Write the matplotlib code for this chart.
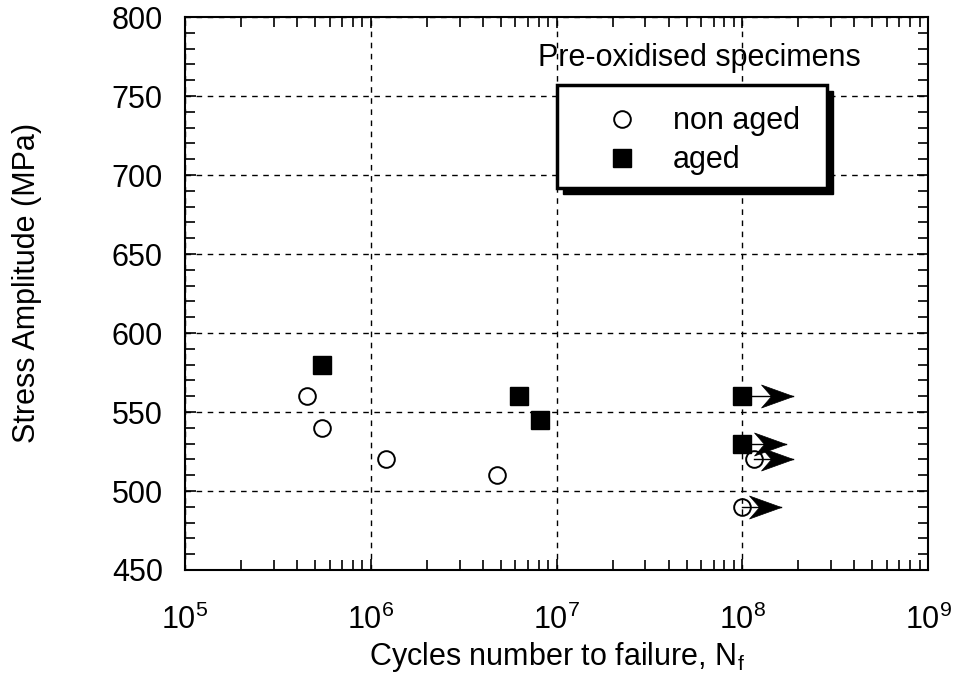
import numpy as np
import matplotlib.pyplot as plt
from matplotlib.patches import Rectangle
from matplotlib.path import Path
from matplotlib.ticker import LogLocator, MultipleLocator, NullFormatter

plt.rcParams['font.family'] = ['Liberation Sans', 'DejaVu Sans']
plt.rcParams['mathtext.fontset'] = 'custom'
plt.rcParams['mathtext.rm'] = 'Liberation Sans'
plt.rcParams['mathtext.it'] = 'Liberation Sans:italic'

# non aged (open circles)
non_aged_n = [4.55e5, 5.45e5, 1.21e6, 4.75e6, 1.0e8, 1.15e8]
non_aged_s = [560, 540, 520, 510, 490, 520]

# aged (filled squares)
aged_n = [5.45e5, 6.3e6, 8.1e6, 1.0e8, 1.0e8]
aged_s = [580, 560, 545, 560, 530]

# run-outs (no failure): start, arrow tip, stress
runout_n = [1.0e8, 1.0e8, 1.15e8, 1.0e8]
runout_tip = [1.88e8, 1.72e8, 1.88e8, 1.62e8]
runout_s = [560, 530, 520, 490]

# notched dart head, tip at the origin
head = Path([(0, 0), (-32, 11.5), (-22, 0), (-32, -11.5), (0, 0)],
            [Path.MOVETO, Path.LINETO, Path.LINETO, Path.LINETO, Path.CLOSEPOLY])

fig = plt.figure(figsize=(9.54, 6.81), dpi=100)
ax = fig.add_axes([0.194, 0.163, 0.779, 0.812])

ax.set_xscale('log')
ax.set_xlim(1e5, 1e9)
ax.set_ylim(450, 800)

for x0, x1, s in zip(runout_n, runout_tip, runout_s):
    ax.plot([x0, x1], [s, s], color='k', lw=1, zorder=2)
    ax.plot([x1], [s], marker=head, ms=46, mfc='k', mec='k', mew=0.5,
            ls='none', zorder=2)

ax.plot(non_aged_n, non_aged_s, 'o', ms=12, mfc='none', mec='k', mew=1.4,
        label='non aged', zorder=3)
ax.plot(aged_n, aged_s, 's', ms=13, mfc='k', mec='k', label='aged', zorder=3)

ax.yaxis.set_major_locator(MultipleLocator(50))
ax.yaxis.set_minor_locator(MultipleLocator(10))
ax.xaxis.set_major_locator(LogLocator(base=10, numticks=10))
ax.xaxis.set_minor_locator(LogLocator(base=10, subs=np.arange(2, 10), numticks=20))
ax.xaxis.set_minor_formatter(NullFormatter())

ax.tick_params(which='both', direction='in', top=True, right=True, width=1.2,
               labelsize=22)
ax.tick_params(which='major', length=8)
ax.tick_params(which='minor', length=7)
ax.tick_params(axis='x', which='major', pad=25)
ax.tick_params(axis='y', which='major', pad=16)
ax.grid(True, which='major', ls=(0, (4, 4)), color='k', lw=1)
for sp in ax.spines.values():
    sp.set_linewidth(1.5)

ax.set_xlabel('Cycles number to failure, N$_{\\rm f}$', fontsize=22)
ax.set_ylabel('Stress Amplitude (MPa)', fontsize=22)
ax.xaxis.set_label_coords(0.5, -0.127)
ax.yaxis.set_label_coords(-0.192, 0.52)

# legend box with black shadow
bx0, by0, bw, bh = 0.501, 0.691, 0.363, 0.186
ax.add_patch(Rectangle((bx0 + 0.008, by0 - 0.011), bw, bh, transform=ax.transAxes,
                       facecolor='k', edgecolor='k', zorder=5))
ax.add_patch(Rectangle((bx0, by0), bw, bh, transform=ax.transAxes,
                       facecolor='white', edgecolor='k', lw=2.5, zorder=6))
leg = ax.legend(loc='center', bbox_to_anchor=(bx0 + bw / 2 + 0.01, by0 + bh / 2 - 0.008),
                frameon=False, fontsize=22, handletextpad=0.9, labelspacing=0.3,
                handlelength=1.5, numpoints=1)
leg.set_zorder(7)
ax.text(0.692, 0.926, 'Pre-oxidised specimens', transform=ax.transAxes,
        ha='center', va='center', fontsize=22, zorder=7)

fig.savefig('out.png', dpi=100)
